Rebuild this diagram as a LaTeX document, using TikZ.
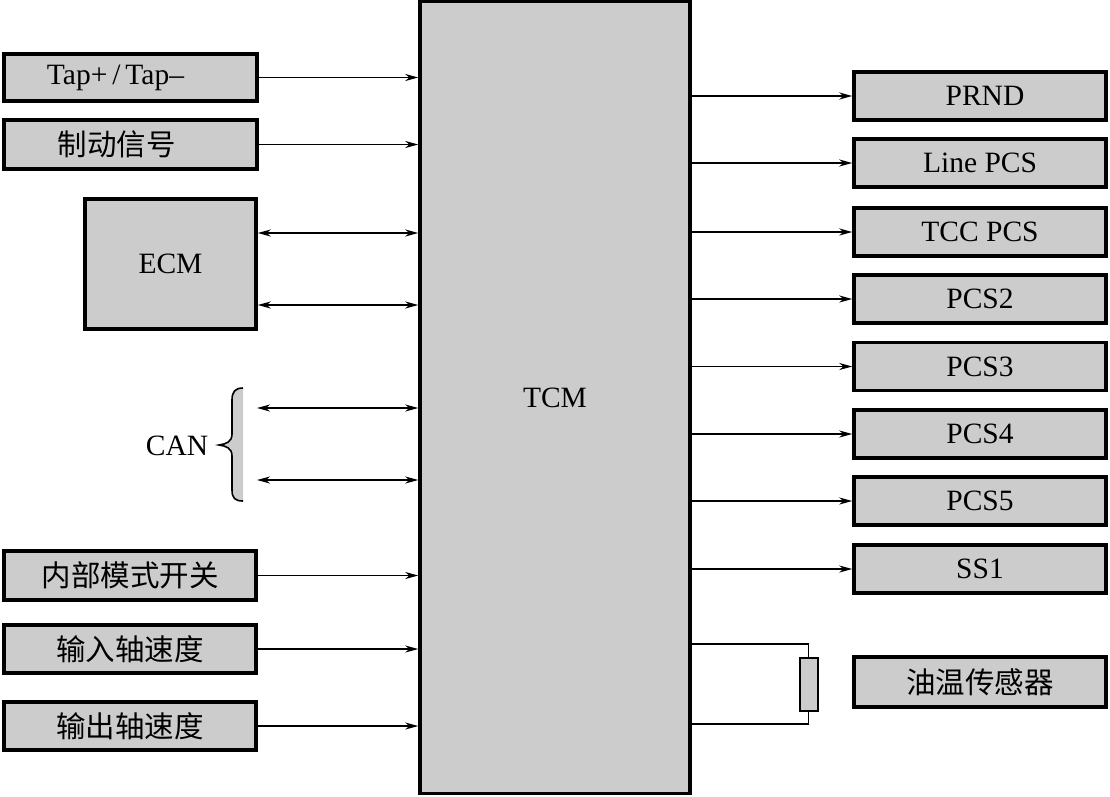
\documentclass[tikz,border=0pt]{standalone}
\usepackage{fontspec}
\setmainfont{Liberation Serif}
\newfontfamily\cjk{Noto Sans CJK SC}
\usetikzlibrary{arrows.meta}
\definecolor{boxgray}{HTML}{CCCCCC}
\begin{document}
\begin{tikzpicture}[x=1pt,y=-1pt,
  box/.style={draw, line width=3.5pt, fill=boxgray, inner sep=0pt, font=\fontsize{29.5pt}{32pt}\selectfont},
  cbox/.style={box, font=\fontsize{29.5pt}{32pt}\selectfont\cjk},
  conn/.style={line width=1.5pt, -{Stealth[length=13pt,width=7pt,inset=4pt]}},
  bconn/.style={line width=1.5pt, {Stealth[length=13pt,width=7pt,inset=4pt]}-{Stealth[length=13pt,width=7pt,inset=4pt]}},
  lbl/.style={font=\fontsize{29.5pt}{32pt}\selectfont}
]
\useasboundingbox (0,0) rectangle (1110,796);
% central TCM
\node[box, minimum width=270pt, minimum height=792pt] (tcm) at (555,397.5) {TCM};
% left boxes
\node[box, minimum width=253pt, minimum height=47pt] (tap) at (130.5,77.5) {\hspace*{-30pt}Tap+\,/\,Tap--};
\node[cbox, minimum width=253pt, minimum height=49pt] (brk) at (130.5,144.5) {\hspace*{-28pt}制动信号};
\node[box, minimum width=171pt, minimum height=130pt] (ecm) at (170.5,264) {ECM};
\node[cbox, minimum width=252pt, minimum height=49pt] (mode) at (130,575.5) {内部模式开关};
\node[cbox, minimum width=252pt, minimum height=48pt] (ins) at (130,649) {输入轴速度};
\node[cbox, minimum width=252pt, minimum height=48pt] (outs) at (130,726) {输出轴速度};
% right boxes
\node[box, minimum width=252pt, minimum height=48pt] (prnd) at (980,96) {\hspace*{10pt}PRND};
\node[box, minimum width=252pt, minimum height=48pt] (lpcs) at (980,163) {Line PCS};
\node[box, minimum width=252pt, minimum height=48pt] (tcc) at (980,232) {TCC PCS};
\node[box, minimum width=252pt, minimum height=48pt] (pcs2) at (980,299) {PCS2};
\node[box, minimum width=252pt, minimum height=48pt] (pcs3) at (980,366.5) {PCS3};
\node[box, minimum width=252pt, minimum height=48pt] (pcs4) at (980,434) {PCS4};
\node[box, minimum width=252pt, minimum height=48pt] (pcs5) at (980,501) {PCS5};
\node[box, minimum width=252pt, minimum height=48pt] (ss1) at (980,569) {SS1};
\node[cbox, minimum width=252pt, minimum height=50pt] (oil) at (980,682) {油温传感器};
% resistor
\node[draw, line width=2pt, fill=boxgray, minimum width=18pt, minimum height=53pt, inner sep=0pt] (res) at (808.5,684) {};
% left connectors
\draw[conn] (tap.east) -- (tap.east -| tcm.west);
\draw[conn] (brk.east) -- (brk.east -| tcm.west);
\draw[bconn] (ecm.east |- 0,233) -- (tcm.west |- 0,233);
\draw[bconn] (ecm.east |- 0,305) -- (tcm.west |- 0,305);
\coordinate (can1) at (257,408);
\coordinate (can2) at (257,480);
\draw[bconn] (can1) -- (can1 -| tcm.west);
\draw[bconn] (can2) -- (can2 -| tcm.west);
\draw[conn] (mode.east) -- (mode.east -| tcm.west);
\draw[conn] (ins.east) -- (ins.east -| tcm.west);
\draw[conn] (outs.east) -- (outs.east -| tcm.west);
% right connectors
\foreach \n in {prnd,lpcs,tcc,pcs2,pcs3,pcs4,pcs5,ss1}
  \draw[conn] (\n.west -| tcm.east) -- (\n.west);
\draw[line width=1.5pt] (tcm.east |- 0,644) -| (res.north);
\draw[line width=1.5pt] (tcm.east |- 0,724) -| (res.south);
% CAN brace
\fill[boxgray] (243,388) .. controls (235,388) and (232,392) .. (232,400) -- (232,434)
  .. controls (232,442) and (226,444) .. (219,445)
  .. controls (226,446) and (232,448) .. (232,456) -- (232,490)
  .. controls (232,498) and (235,501) .. (243,501) -- cycle;
\draw[line width=1.6pt] (243,388) .. controls (235,388) and (232,392) .. (232,400) -- (232,434)
  .. controls (232,442) and (226,444) .. (219,445)
  .. controls (226,446) and (232,448) .. (232,456) -- (232,490)
  .. controls (232,498) and (235,501) .. (243,501);
\node[lbl] (can) at (177,446) {CAN};
\end{tikzpicture}
\end{document}
